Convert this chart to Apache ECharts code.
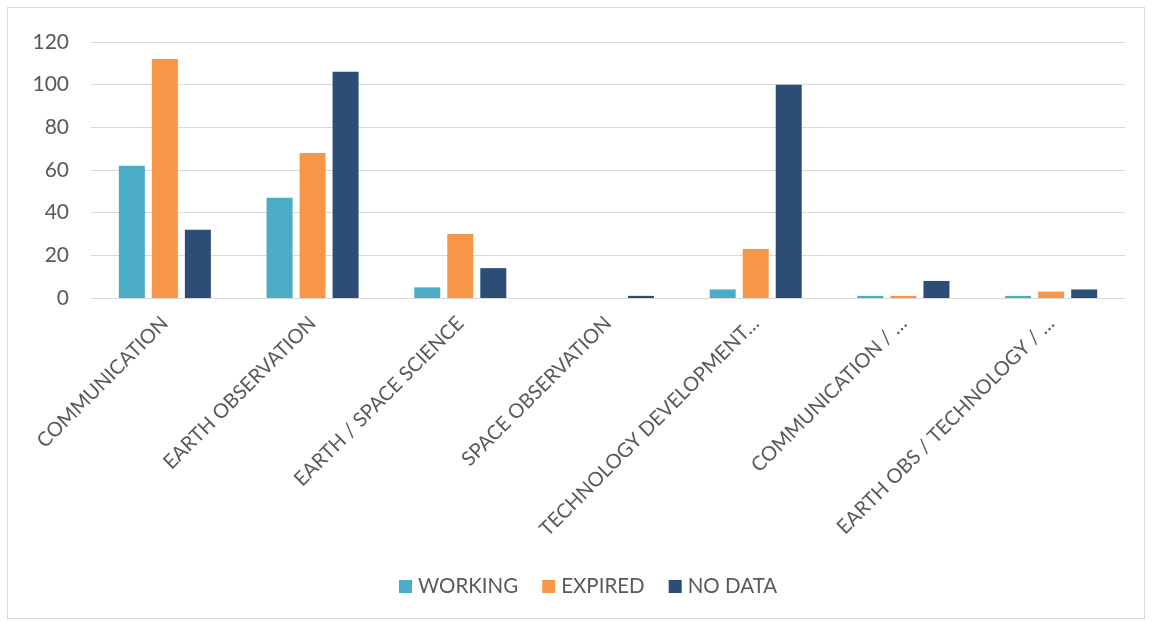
<!DOCTYPE html>
<html>
<head>
<meta charset="utf-8">
<script src="https://cdn.jsdelivr.net/npm/echarts@6/dist/echarts.min.js"></script>
<style>
  html, body { margin: 0; padding: 0; background: #fff; }
  #frame { position: absolute; left: 7px; top: 7px; width: 1138px; height: 612px; border: 1px solid #d9d9d9; box-sizing: border-box; }
  #chart { position: absolute; left: 0; top: 0; width: 1153px; height: 624px; }
</style>
</head>
<body>
<div id="frame"></div>
<div id="chart"></div>
<script>
const categories = [
  'COMMUNICATION',
  'EARTH OBSERVATION',
  'EARTH / SPACE SCIENCE',
  'SPACE OBSERVATION',
  'TECHNOLOGY DEVELOPMENT…',
  'COMMUNICATION / …',
  'EARTH OBS / TECHNOLOGY / …'
];
const working = [62, 47, 5, 0, 4, 1, 1];
const expired = [112, 68, 30, 0, 23, 1, 3];
const noData  = [32, 106, 14, 1, 100, 8, 4];
const yTicks = [0, 20, 40, 60, 80, 100, 120];

const FONT = 'Lato';
const TEXT = '#595959';

const chart = echarts.init(document.getElementById('chart'), null, { renderer: 'canvas' });

function barSeries(name, data, color) {
  return {
    name: name,
    type: 'bar',
    data: data,
    barWidth: 26,
    barGap: '27%',
    itemStyle: { color: color },
    emphasis: { disabled: true }
  };
}

chart.setOption({
  animation: false,
  textStyle: { fontFamily: FONT },
  grid: { left: 91, right: 28, top: 42, bottom: 326, containLabel: false },
  legend: {
    top: 571,
    left: 394,
    itemWidth: 13,
    itemHeight: 13,
    itemGap: 24,
    icon: 'rect',
    textStyle: { fontFamily: FONT, fontSize: 20.5, color: TEXT, padding: [0, 0, 0, 1] },
    data: ['WORKING', 'EXPIRED', 'NO DATA']
  },
  xAxis: {
    type: 'category',
    data: categories,
    axisTick: { show: false },
    axisLine: { lineStyle: { color: '#d9d9d9', width: 1 } },
    axisLabel: {
      interval: 0,
      rotate: 45,
      margin: 22,
      fontFamily: FONT,
      fontSize: 20,
      color: TEXT
    }
  },
  yAxis: {
    type: 'value',
    min: yTicks[0],
    max: yTicks[yTicks.length - 1],
    interval: 20,
    axisLine: { show: false },
    axisTick: { show: false },
    axisLabel: { margin: 22, fontFamily: FONT, fontSize: 21, color: TEXT },
    splitLine: { lineStyle: { color: '#d9d9d9', width: 1 } }
  },
  series: [
    barSeries('WORKING', working, '#4BACC6'),
    barSeries('EXPIRED', expired, '#F79646'),
    barSeries('NO DATA', noData, '#2C4D75')
  ]
});
</script>
</body>
</html>
